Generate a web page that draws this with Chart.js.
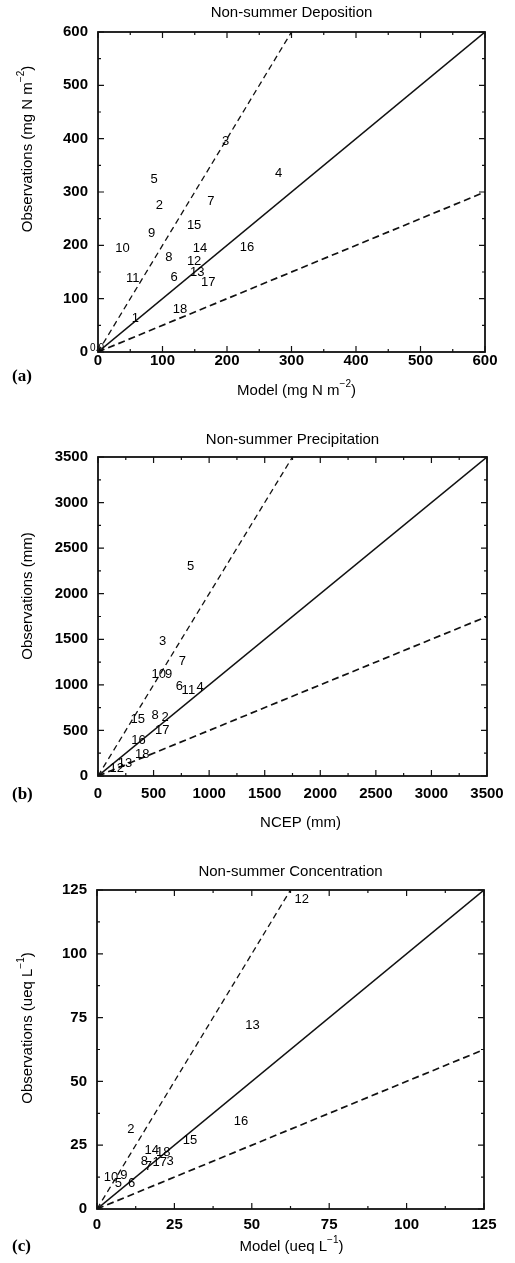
<!DOCTYPE html>
<html>
<head>
<meta charset="utf-8">
<script src="https://cdn.jsdelivr.net/npm/chart.js@4.4.1/dist/chart.umd.min.js"></script>
<style>
  html, body { margin: 0; padding: 0; background: #fff; }
  .panel { position: absolute; left: 0; width: 515px; }
</style>
</head>
<body>
<div class="panel" style="top:0;height:420px"><canvas id="chart-a" width="515" height="420"></canvas></div>
<div class="panel" style="top:420px;height:420px"><canvas id="chart-b" width="515" height="420"></canvas></div>
<div class="panel" style="top:840px;height:423px"><canvas id="chart-c" width="515" height="423"></canvas></div>
<script>
// ---- data ----
// (a) Non-summer deposition, mg N m-2
const depSites = ['1','2','3','4','5','6','7','8','9','10','11','12','13','14','15','16','17','18'];
const depModel = [58, 95, 198, 280, 87, 118, 175, 110, 83, 38, 54, 149, 154, 158, 149, 231, 171, 127];
const depObs   = [63, 275, 394, 334, 323, 139, 282, 178, 223, 194, 138, 169, 149, 194, 238, 196, 130, 80];
const depTicks = [0, 100, 200, 300, 400, 500, 600];

// (b) Non-summer precipitation, mm
const preSites = ['3','5','7','10','9','6','11','4','15','8','2','17','16','18','12','13'];
const preNcep  = [582, 834, 759, 546, 636, 732, 813, 918, 357, 513, 603, 578, 364, 399, 168, 243];
const preObs   = [1481, 2297, 1254, 1119, 1119, 980, 944, 969, 622, 669, 640, 505, 395, 238, 84, 139];
const preTicks = [0, 500, 1000, 1500, 2000, 2500, 3000, 3500];

// (c) Non-summer concentration, ueq L-1
const conSites = ['12','13','16','2','15','14','18','8','17','3','7','10','5','9','6'];
const conModel = [66.1, 50.2, 46.5, 10.9, 30.0, 17.7, 21.4, 15.3, 20.3, 23.6, 16.6, 4.5, 6.9, 8.7, 11.2];
const conObs   = [121.4, 72.1, 34.5, 31.0, 27.0, 23.1, 22.0, 18.8, 18.3, 18.5, 16.8, 12.3, 10.0, 13.0, 10.0];
const conTicks = [0, 25, 50, 75, 100, 125];

// reference lines: obs = ratio * model
const ratios = [1, 2, 0.5];

const FAMILY = '"Liberation Sans", Arial, Helvetica, sans-serif';

function ratioLine(r, max) {
    // end where the line leaves the square plot
    const end = r >= 1 ? { x: max / r, y: max } : { x: max, y: max * r };
    return [{ x: 0, y: 0 }, end];
}

function drawParts(ctx, parts, size) {
    const fN = size + 'px ' + FAMILY;
    const fS = Math.round(size * 0.68) + 'px ' + FAMILY;
    let total = 0;
    const widths = parts.map(p => {
        ctx.font = p.sup ? fS : fN;
        const w = ctx.measureText(p.t).width;
        total += w;
        return w;
    });
    let x = -total / 2;
    ctx.textAlign = 'left';
    ctx.textBaseline = 'middle';
    parts.forEach((p, i) => {
        ctx.font = p.sup ? fS : fN;
        ctx.fillText(p.t, x, p.sup ? -size * 0.42 : 0);
        x += widths[i];
    });
}

const panelDecor = {
    id: 'panelDecor',
    afterDatasetsDraw(chart, args, opts) {
        const ctx = chart.ctx;
        const { left, right, top, bottom } = chart.chartArea;
        const xs = chart.scales.x, ys = chart.scales.y;
        ctx.save();
        ctx.fillStyle = '#000';

        // number labels at each site
        const ds = chart.data.datasets[0];
        const meta = chart.getDatasetMeta(0);
        ctx.font = '13px ' + FAMILY;
        ctx.textAlign = 'center';
        ctx.textBaseline = 'middle';
        meta.data.forEach((el, i) => ctx.fillText(ds.siteLabels[i], el.x, el.y));

        if (opts.originText) {
            ctx.font = '10px ' + FAMILY;
            ctx.fillText(opts.originText, xs.getPixelForValue(0) - 1, ys.getPixelForValue(0) - 4);
        }

        // frame with inward ticks on all four sides
        ctx.strokeStyle = '#111';
        ctx.lineWidth = 1.2;
        ctx.beginPath();
        for (let v = 0; v <= opts.max + 1e-9; v += opts.minor) {
            const isMajor = Math.abs(v / opts.major - Math.round(v / opts.major)) < 1e-6;
            const len = isMajor ? 6 : 3;
            const px = xs.getPixelForValue(v), py = ys.getPixelForValue(v);
            ctx.moveTo(px, bottom); ctx.lineTo(px, bottom - len);
            ctx.moveTo(px, top); ctx.lineTo(px, top + len);
            ctx.moveTo(left, py); ctx.lineTo(left + len, py);
            ctx.moveTo(right, py); ctx.lineTo(right - len, py);
        }
        ctx.stroke();
        ctx.lineWidth = 1.8;
        ctx.strokeRect(left, top, right - left, bottom - top);

        // panel title
        ctx.fillStyle = '#000';
        ctx.font = '15px ' + FAMILY;
        ctx.textAlign = 'center';
        ctx.textBaseline = 'middle';
        ctx.fillText(opts.title, (left + right) / 2, opts.titleY);

        // axis titles
        ctx.save();
        ctx.translate((left + right) / 2 + opts.xTitleDx, opts.xTitleY);
        drawParts(ctx, opts.xTitle, 15);
        ctx.restore();
        ctx.save();
        ctx.translate(28, opts.yTitleY);
        ctx.rotate(-Math.PI / 2);
        drawParts(ctx, opts.yTitle, 15);
        ctx.restore();

        // panel letter
        ctx.font = 'bold 17px "Liberation Serif", "Times New Roman", serif';
        ctx.textAlign = 'left';
        ctx.textBaseline = 'middle';
        ctx.fillText(opts.letter, 12, opts.letterY);
        ctx.restore();
    }
};

function makePanel(canvasId, cfg) {
    const H = cfg.height;
    const axisH = 40;
    const lineStyles = [
        { dash: [], width: 1.5 },
        { dash: [6, 4], width: 1.3 },
        { dash: [7, 4], width: 1.7 }
    ];
    const datasets = [{
        data: cfg.xs.map((x, i) => ({ x: x, y: cfg.ys[i] })),
        siteLabels: cfg.sites,
        pointRadius: 0,
        showLine: false
    }];
    ratios.forEach((r, i) => {
        datasets.push({
            data: ratioLine(r, cfg.max),
            showLine: true,
            borderColor: '#111',
            borderWidth: lineStyles[i].width,
            borderDash: lineStyles[i].dash,
            pointRadius: 0,
            fill: false
        });
    });
    const tickFont = { size: 15, weight: 'bold', family: FAMILY };
    const plain = v => String(v);
    new Chart(document.getElementById(canvasId).getContext('2d'), {
        type: 'scatter',
        data: { datasets: datasets },
        options: {
            responsive: false,
            animation: false,
            devicePixelRatio: 1,
            layout: {
                padding: { left: 0, right: 515 - cfg.area.right, top: cfg.area.top, bottom: H - cfg.area.bottom - axisH }
            },
            scales: {
                x: {
                    type: 'linear', min: 0, max: cfg.max,
                    afterBuildTicks: s => { s.ticks = cfg.ticks.map(v => ({ value: v })); },
                    ticks: { color: '#000', font: tickFont, padding: cfg.xPad, maxRotation: 0, autoSkip: false, callback: plain },
                    grid: { display: false, drawTicks: false },
                    border: { display: false },
                    afterFit: s => { s.height = axisH; }
                },
                y: {
                    type: 'linear', min: 0, max: cfg.max,
                    afterBuildTicks: s => { s.ticks = cfg.ticks.map(v => ({ value: v })); },
                    ticks: { color: '#000', font: tickFont, padding: 10, autoSkip: false, callback: plain },
                    grid: { display: false, drawTicks: false },
                    border: { display: false },
                    afterFit: s => { s.width = cfg.area.left; }
                }
            },
            plugins: {
                legend: { display: false },
                tooltip: { enabled: false },
                panelDecor: cfg.decor
            }
        },
        plugins: [panelDecor]
    });
}

window.addEventListener('DOMContentLoaded', () => {
    makePanel('chart-a', {
        height: 420, max: 600, ticks: depTicks, sites: depSites, xs: depModel, ys: depObs,
        area: { left: 98, right: 485, top: 32, bottom: 352 }, xPad: 0,
        decor: {
            title: 'Non-summer Deposition', titleY: 13, max: 600, major: 100, minor: 50,
            xTitle: [{ t: 'Model (mg N m' }, { t: '\u22122', sup: true }, { t: ')' }], xTitleY: 391, xTitleDx: 5,
            yTitle: [{ t: 'Observations (mg N m' }, { t: '\u22122', sup: true }, { t: ')' }], yTitleY: 149,
            letter: '(a)', letterY: 377, originText: '0.0'
        }
    });
    makePanel('chart-b', {
        height: 420, max: 3500, ticks: preTicks, sites: preSites, xs: preNcep, ys: preObs,
        area: { left: 98, right: 487, top: 37, bottom: 356 }, xPad: 9,
        decor: {
            title: 'Non-summer Precipitation', titleY: 20, max: 3500, major: 500, minor: 250,
            xTitle: [{ t: 'NCEP (mm)' }], xTitleY: 403, xTitleDx: 8,
            yTitle: [{ t: 'Observations (mm)' }], yTitleY: 176,
            letter: '(b)', letterY: 375
        }
    });
    makePanel('chart-c', {
        height: 423, max: 125, ticks: conTicks, sites: conSites, xs: conModel, ys: conObs,
        area: { left: 97, right: 484, top: 50, bottom: 369 }, xPad: 7,
        decor: {
            title: 'Non-summer Concentration', titleY: 32, max: 125, major: 25, minor: 12.5,
            xTitle: [{ t: 'Model (ueq L' }, { t: '\u22121', sup: true }, { t: ')' }], xTitleY: 407, xTitleDx: 1,
            yTitle: [{ t: 'Observations (ueq L' }, { t: '\u22121', sup: true }, { t: ')' }], yTitleY: 188,
            letter: '(c)', letterY: 407
        }
    });
});
</script>
</body>
</html>
